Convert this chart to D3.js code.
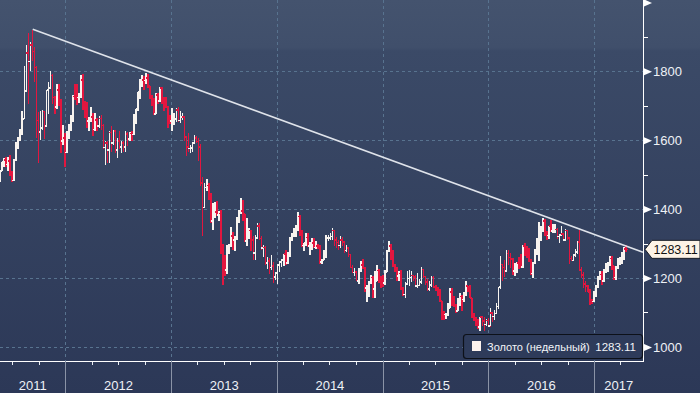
<!DOCTYPE html>
<html>
<head>
<meta charset="utf-8">
<script src="https://cdn.jsdelivr.net/npm/d3@7"></script>
<style>
  html, body { margin: 0; padding: 0; background: #2e3b59; }
  svg { display: block; }
</style>
</head>
<body>
<svg id="chart" width="700" height="393"></svg>
<script>
// ---------- DATA (weekly gold bars, week ending Fridays from 2011-05-20) ----------
const firstWeek = "2011-05-20";
const seriesName = "Золото (недельный)";
const lastValue = 1283.11;

const weekOpen = [
  // 2011
  1493,1510,1536,1543,1530,1539,1502,1483,1542,1593,1602,1628,1662,1742,1853,1828,1876,1857,1811,1657,1624,1636,1683,1642,1746,1752,1788,1724,1696,1746,1712,1597,1607,
  // 2012
  1564,1616,1640,1664, 1727,1725,1724,1725, 1775,1710,1699,1656,1662, 1668,1631,1659,1642, 1663,1643,1579,1592, 1572,1622,1591,1626,1572, 1598,1580,1592,1580, 1618,1603,1620,1616,1670, 1691,1740,1770,1774, 1773,1780,1758,1724, 1712,1676,1731,1713,1751, 1712,1702,1697,1657,
  // 2013
  1656,1656,1661,1687, 1657,1667,1667,1609, 1581,1576,1577,1592,1606, 1596,1581,1476,1405, 1463,1469,1435,1365,1386, 1392,1383,1387,1297, 1234,1223,1277,1296, 1322,1311,1312,1376,1395, 1395,1387,1308,1333, 1338,1310,1273,1316, 1351,1315,1287,1288,1244, 1250,1231,1235,1203,
  // 2014
  1214,1237,1247,1253,1270, 1244,1262,1318,1323, 1326,1338,1379,1335, 1294,1303,1318,1293, 1301,1302,1289,1293,1292, 1246,1253,1274,1316, 1316,1320,1338,1310, 1303,1294,1310,1304,1280, 1287,1268,1230,1216, 1218,1192,1222,1238,1231, 1171,1178,1186,1201, 1168,1191,1222,1196,
  // 2015
  1195,1186,1216,1277,1293, 1279,1234,1227,1205, 1213,1167,1152,1183, 1199,1201,1207,1203, 1177,1178,1189,1225,1204, 1189,1168,1180,1201, 1173,1167,1157,1133,1098, 1094,1094,1113,1160, 1134,1121,1104,1138, 1146,1137,1156,1177,1162, 1142,1088,1081,1076, 1057,1086,1075,1065,
  // 2016
  1076,1061,1098,1088,1097, 1117,1173,1239,1230, 1221,1271,1259,1255, 1220,1222,1243,1234,1232, 1292,1290,1272,1252, 1213,1243,1275,1298, 1322,1339,1366,1327,1323, 1351,1336,1336,1341, 1320,1325,1327,1310,1338, 1316,1257,1251,1266, 1275,1304,1224,1209, 1183,1177,1160,1133,1132,
  // 2017
  1152,1173,1196,1210, 1191,1220,1234,1239, 1257,1234,1201,1229,1243, 1249,1254,1285
];
const weekHigh = [
  1512,1538,1549,1552,1550,1558,1512,1544,1594,1610,1632,1684,1814,1877,1912,1885,1921,1871,1815,1681,1684,1687,1684,1747,1769,1802,1792,1728,1764,1763,1720,1644,1620,
  1627,1648,1672,1731, 1764,1763,1738,1790, 1792,1715,1711,1667,1697, 1679,1680,1665,1669, 1672,1646,1597,1597, 1627,1640,1628,1628,1605, 1627,1598,1597,1627, 1625,1625,1627,1675,1692, 1740,1777,1788,1787, 1796,1792,1758,1730, 1723,1736,1737,1754,1754, 1726,1725,1699,1673,
  1694,1678,1694,1696, 1684,1680,1671,1612, 1620,1585,1596,1616,1612, 1605,1588,1493,1477, 1488,1476,1448,1417,1420, 1424,1394,1398,1300, 1267,1297,1300,1348, 1334,1323,1378,1397,1433, 1425,1387,1375,1345, 1340,1323,1324,1361, 1361,1323,1295,1294,1261, 1259,1267,1246,1218,
  1241,1249,1256,1270,1280, 1274,1320,1332,1345, 1355,1392,1384,1339, 1303,1331,1331,1305, 1316,1316,1306,1298,1296, 1256,1280,1325,1325, 1332,1345,1338,1320, 1311,1322,1320,1305,1297, 1290,1270,1237,1228, 1221,1229,1250,1255,1232, 1180,1192,1208,1207, 1221,1238,1225,1205,
  1210,1224,1281,1307,1300, 1280,1242,1232,1219, 1224,1175,1187,1219, 1223,1219,1209,1209, 1214,1196,1232,1227,1207, 1197,1192,1205,1205, 1180,1174,1168,1133,1104, 1099,1126,1170,1170, 1147,1124,1141,1157, 1152,1160,1191,1178,1180, 1142,1097,1088,1081, 1088,1089,1087,1081,
  1083,1112,1101,1106,1127, 1175,1263,1240,1252, 1280,1282,1272,1258, 1244,1245,1261,1270,1297, 1303,1294,1286,1254, 1245,1285,1316,1362, 1351,1375,1370,1335,1352, 1368,1357,1357,1346, 1328,1352,1330,1343,1340, 1317,1265,1271,1285, 1306,1338,1232,1218, 1191,1180,1169,1139,1163,
  1181,1207,1220,1221, 1225,1244,1245,1264, 1264,1234,1234,1259,1261, 1274,1289,1295
];
const weekLow = [
  1480,1510,1523,1522,1510,1495,1478,1483,1540,1575,1598,1615,1680,1739,1705,1800,1830,1770,1605,1535,1601,1630,1604,1639,1675,1748,1705,1676,1690,1700,1562,1585,1523,
  1562,1603,1628,1653, 1716,1702,1707,1723, 1688,1664,1635,1627,1654, 1612,1626,1626,1636, 1629,1573,1527,1535, 1533,1565,1587,1564,1547, 1575,1564,1566,1567, 1584,1598,1598,1615,1647, 1686,1719,1753,1745, 1764,1752,1721,1699, 1673,1676,1705,1712,1705, 1684,1693,1636,1648,
  1626,1644,1654,1652, 1651,1660,1597,1555, 1565,1562,1567,1590,1591, 1539,1466,1321,1403, 1453,1425,1359,1338,1373, 1380,1366,1269,1180, 1207,1212,1270,1290, 1282,1279,1310,1360,1385, 1364,1305,1292,1312, 1277,1251,1251,1313, 1310,1281,1262,1239,1226, 1211,1222,1185,1194,
  1182,1217,1233,1234,1238, 1241,1260,1308,1320, 1320,1335,1321,1290, 1277,1294,1290,1268, 1280,1286,1284,1283,1240, 1240,1251,1259,1307, 1311,1311,1292,1288, 1281,1287,1293,1273,1276, 1261,1228,1214,1205, 1190,1183,1216,1226,1160, 1131,1146,1182,1142, 1142,1190,1186,1170,
  1173,1180,1216,1275,1251, 1232,1216,1190,1191, 1164,1147,1142,1180, 1178,1188,1190,1175, 1170,1178,1182,1200,1180, 1162,1162,1173,1170, 1163,1147,1130,1077,1077, 1080,1090,1112,1118, 1116,1098,1103,1119, 1104,1130,1149,1159,1141, 1085,1074,1062,1052, 1046,1062,1046,1062,
  1058,1061,1071,1077,1096, 1111,1169,1191,1203, 1219,1238,1228,1208, 1206,1214,1227,1230,1229, 1264,1258,1245,1208, 1200,1242,1267,1250, 1307,1333,1321,1311,1314, 1333,1332,1330,1314, 1302,1325,1306,1307,1310, 1241,1250,1248,1262, 1270,1219,1201,1171, 1160,1158,1123,1124,1131,
  1146,1172,1193,1180, 1188,1215,1216,1234, 1223,1195,1195,1227,1237, 1240,1252,1275
];
const weekClose = [
  1510,1536,1543,1530,1539,1502,1483,1542,1593,1602,1628,1662,1742,1853,1828,1876,1857,1811,1657,1624,1636,1683,1642,1746,1752,1788,1724,1696,1746,1712,1597,1607,1564,
  1616,1640,1664,1727, 1725,1724,1725,1775, 1710,1699,1656,1662,1668, 1631,1659,1642,1663, 1643,1579,1592,1572, 1622,1591,1626,1572,1598, 1580,1592,1580,1618, 1603,1620,1616,1670,1691, 1740,1770,1774,1773, 1780,1758,1724,1712, 1676,1731,1713,1751,1712, 1702,1697,1657,1656,
  1656,1661,1687,1657, 1667,1667,1609,1581, 1576,1577,1592,1606,1596, 1581,1476,1405,1463, 1469,1435,1365,1386,1392, 1383,1387,1297,1234, 1223,1277,1296,1322, 1311,1312,1376,1395,1395, 1387,1308,1333,1338, 1310,1273,1316,1351, 1315,1287,1288,1244,1250, 1231,1235,1203,1214,
  1237,1247,1253,1270,1244, 1262,1318,1323,1326, 1338,1379,1335,1294, 1303,1318,1293,1301, 1302,1289,1293,1292,1246, 1253,1274,1316,1316, 1320,1338,1310,1303, 1294,1310,1304,1280,1287, 1268,1230,1216,1218, 1192,1222,1238,1231,1171, 1178,1186,1201,1168, 1191,1222,1196,1195,
  1186,1216,1277,1293,1279, 1234,1227,1205,1213, 1167,1152,1183,1199, 1201,1207,1203,1177, 1178,1189,1225,1204,1189, 1168,1180,1201,1173, 1167,1157,1133,1098,1094, 1094,1113,1160,1134, 1121,1104,1138,1146, 1137,1156,1177,1162,1142, 1088,1081,1076,1057, 1086,1075,1065,1076,
  1061,1098,1088,1097,1117, 1173,1239,1230,1221, 1271,1259,1255,1220, 1222,1243,1234,1232,1292, 1290,1272,1252,1213, 1243,1275,1298,1322, 1339,1366,1327,1323,1351, 1336,1336,1341,1320, 1325,1327,1310,1338,1316, 1257,1251,1266,1275, 1304,1224,1209,1183, 1177,1160,1133,1132,1152,
  1173,1196,1210,1191, 1220,1234,1239,1257, 1234,1201,1229,1243,1249, 1254,1285,1283.11
];

// resistance (trend) line: from the 2011 peak to the right edge
const trendDates = ["2011-09-10", "2017-06-18"];
const trendValues = [1922, 1275];

// axes
const yMajorTicks = [1000, 1200, 1400, 1600, 1800, 2000];
const yMinorTicks = [1100, 1300, 1500, 1700, 1900];
const yearLabels = ["2011", "2012", "2013", "2014", "2015", "2016", "2017"];
const xDomain = ["2011-05-20", "2017-06-18"];
const yDomain = [959, 2007];

// ---------- DRAW ----------
const W = 700, H = 393;
const plotR = 643, plotB = 361;
const parse = d3.timeParse("%Y-%m-%d");
const svg = d3.select("#chart");
const FONT = "Liberation Sans, Arial, sans-serif";

const defs = svg.append("defs");
const grad = defs.append("linearGradient").attr("id", "bg").attr("x1", 0).attr("y1", 0).attr("x2", 0).attr("y2", 1);
grad.append("stop").attr("offset", "0%").attr("stop-color", "#44536e");
grad.append("stop").attr("offset", "12%").attr("stop-color", "#404f6b");
grad.append("stop").attr("offset", "13%").attr("stop-color", "#3b4a67");
grad.append("stop").attr("offset", "100%").attr("stop-color", "#2c3857");
svg.append("rect").attr("width", W).attr("height", H).attr("fill", "url(#bg)");

const x = d3.scaleTime().domain(xDomain.map(parse)).range([0, plotR]);
const y = d3.scaleLinear().domain(yDomain).range([plotB, 0]);

const start = parse(firstWeek);
const bars = weekClose.map((c, i) => ({
  date: d3.timeDay.offset(start, 7 * i),
  o: weekOpen[i], h: weekHigh[i], l: weekLow[i], c: c
}));

const gridColor = "#58738f";
svg.append("g").selectAll("line").data(yMajorTicks.filter(v => v < 2000)).join("line")
  .attr("x1", 0).attr("x2", plotR)
  .attr("y1", d => Math.round(y(d)) + 0.5).attr("y2", d => Math.round(y(d)) + 0.5)
  .attr("stroke", gridColor).attr("stroke-dasharray", "3,3").attr("stroke-width", 1);

const years = d3.timeYear.range(d3.timeYear.ceil(x.domain()[0]), x.domain()[1]);
svg.append("g").selectAll("line").data(years).join("line")
  .attr("x1", d => Math.round(x(d)) + 0.5).attr("x2", d => Math.round(x(d)) + 0.5)
  .attr("y1", 0).attr("y2", plotB)
  .attr("stroke", gridColor).attr("stroke-dasharray", "3,3").attr("stroke-width", 1);

// OHLC bars
const gBars = svg.append("g").attr("shape-rendering", "crispEdges");
const upC = "#f7f3ef", downC = "#e3163f";
const barG = gBars.selectAll("g").data(bars).join("g")
  .attr("stroke", d => d.c >= d.o ? upC : downC)
  .attr("stroke-width", 1.6);
barG.append("line")
  .attr("x1", d => x(d.date)).attr("x2", d => x(d.date))
  .attr("y1", d => y(Math.max(d.h, d.o, d.c))).attr("y2", d => y(Math.min(d.l, d.o, d.c)));
barG.append("line")
  .attr("x1", d => x(d.date) - 2).attr("x2", d => x(d.date))
  .attr("y1", d => y(d.o)).attr("y2", d => y(d.o));
barG.append("line")
  .attr("x1", d => x(d.date)).attr("x2", d => x(d.date) + 2.2)
  .attr("y1", d => y(d.c)).attr("y2", d => y(d.c));

// trend line
svg.append("line")
  .attr("x1", x(parse(trendDates[0]))).attr("y1", y(trendValues[0]))
  .attr("x2", x(parse(trendDates[1]))).attr("y2", y(trendValues[1]))
  .attr("stroke", "#dfe3ea").attr("stroke-width", 1.6);

// x axis
const xAxisG = svg.append("g").attr("transform", `translate(0,${plotB})`)
  .call(d3.axisBottom(x).ticks(d3.timeMonth.every(3)).tickSize(4).tickFormat(""));
xAxisG.select(".domain").remove();
xAxisG.selectAll(".tick line").attr("stroke", "#e8ecf2").attr("shape-rendering", "crispEdges");
svg.append("line").attr("x1", 0).attr("x2", plotR + 0.5).attr("y1", plotB + 0.5).attr("y2", plotB + 0.5)
  .attr("stroke", "#ffffff").attr("stroke-width", 1);
svg.append("g").selectAll("line").data(years).join("line")
  .attr("x1", d => Math.round(x(d)) + 0.5).attr("x2", d => Math.round(x(d)) + 0.5)
  .attr("y1", plotB).attr("y2", H)
  .attr("stroke", "#8a93a6").attr("stroke-width", 1);
const bounds = [0, ...years.map(d => x(d)), plotR];
svg.append("g").selectAll("text").data(yearLabels).join("text")
  .attr("x", (d, i) => (bounds[i] + bounds[i + 1]) / 2)
  .attr("y", 390)
  .attr("text-anchor", "middle")
  .attr("font-family", FONT).attr("font-size", 13)
  .attr("fill", "#eef1f6")
  .text(d => d);

// y axis (right)
svg.append("line").attr("x1", plotR + 0.5).attr("x2", plotR + 0.5).attr("y1", 0).attr("y2", plotB + 1)
  .attr("stroke", "#ffffff").attr("stroke-width", 1);
const yMinor = svg.append("g").attr("transform", `translate(${plotR},0)`)
  .call(d3.axisRight(y).tickValues(yMinorTicks).tickSize(5).tickFormat(""));
yMinor.select(".domain").remove();
yMinor.selectAll(".tick line").attr("stroke", "#ffffff").attr("shape-rendering", "crispEdges");

const yMajor = svg.append("g").attr("transform", `translate(${plotR},0)`)
  .call(d3.axisRight(y).tickValues(yMajorTicks).tickSize(0).tickPadding(10).tickFormat(d3.format("d")));
yMajor.select(".domain").remove();
yMajor.selectAll(".tick text")
  .attr("font-family", FONT).attr("font-size", 13)
  .attr("fill", "#eef1f6")
  .style("display", d => d >= 2000 ? "none" : null);
yMajor.selectAll(".tick").append("path")
  .attr("d", "M1,-3.5 L9,0 L1,3.5 Z").attr("fill", "#ffffff");

// last value tag
const ly = y(lastValue);
const tag = svg.append("g");
tag.append("path")
  .attr("d", `M645,${ly} L652,${ly - 9} L700,${ly - 9} L700,${ly + 9} L652,${ly + 9} Z`)
  .attr("fill", "#fdf3e6").attr("stroke", "#1b1f29").attr("stroke-width", 1);
tag.append("text").attr("x", 653.5).attr("y", ly + 4.5)
  .attr("font-family", FONT).attr("font-size", 12.5)
  .attr("fill", "#111111").text(d3.format(".2f")(lastValue));

// legend
const lg = svg.append("g");
lg.append("rect").attr("x", 463.5).attr("y", 334.5).attr("width", 179).attr("height", 24).attr("rx", 3)
  .attr("fill", "#2e3b5a").attr("stroke", "#0d1119").attr("stroke-width", 1.2);
lg.append("rect").attr("x", 472).attr("y", 341).attr("width", 9).attr("height", 10).attr("fill", "#fdf3ee");
lg.append("text").attr("x", 487).attr("y", 350.5)
  .attr("font-family", FONT).attr("font-size", 11)
  .attr("fill", "#f2f4f8").text(seriesName);
lg.append("text").attr("x", 636).attr("y", 350.5).attr("text-anchor", "end")
  .attr("font-family", FONT).attr("font-size", 11.5)
  .attr("fill", "#f2f4f8").text(d3.format(".2f")(lastValue));
</script>
</body>
</html>
